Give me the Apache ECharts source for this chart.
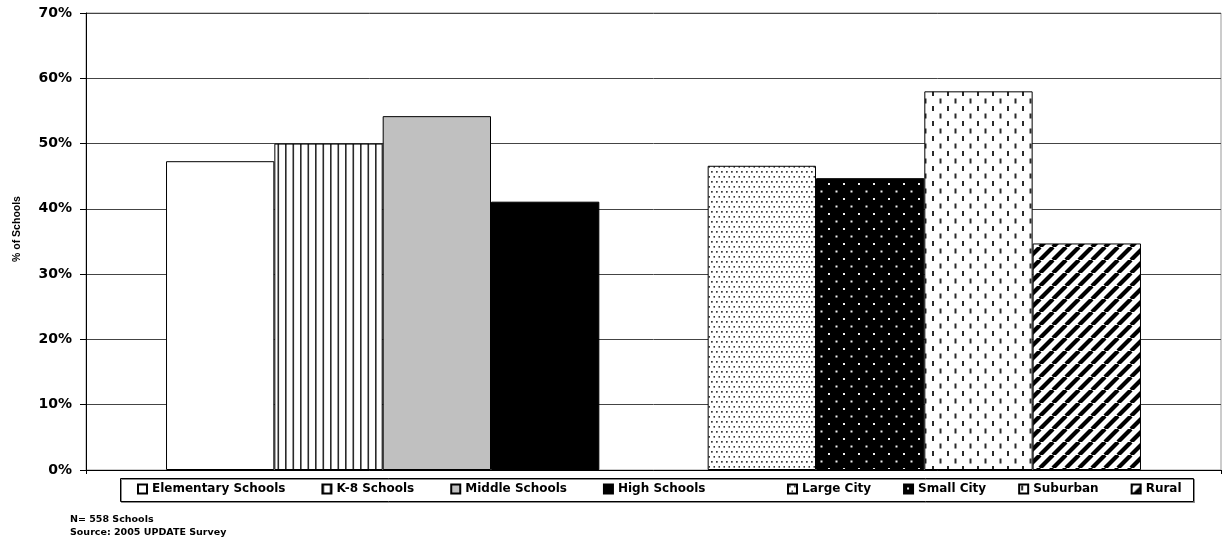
<!DOCTYPE html>
<html>
<head>
<meta charset="utf-8">
<script src="https://cdn.jsdelivr.net/npm/echarts@6/dist/echarts.min.js"></script>
<style>
  html, body { margin: 0; padding: 0; background: #fff; }
  #chart { width: 1224px; height: 542px; }
</style>
</head>
<body>
<div id="chart"></div>
<script>
// School groups (left block) and locale groups (right block)
const schoolTypes = ['Elementary Schools', 'K-8 Schools', 'Middle Schools', 'High Schools'];
const schoolValues = [47.3, 50.0, 54.2, 41.1];
const localeTypes = ['Large City', 'Small City', 'Suburban', 'Rural'];
const localeValues = [46.6, 44.7, 58.0, 34.7];
const yTickValues = [0, 10, 20, 30, 40, 50, 60, 70];
const yTitle = '% of Schools';
const footnotes = ['N= 558 Schools', 'Source: 2005 UPDATE Survey'];

// ---- fill patterns -------------------------------------------------------
function tile(w, h, draw) {
  const c = document.createElement('canvas');
  c.width = w; c.height = h;
  const g = c.getContext('2d');
  draw(g, w, h);
  return { image: c, repeat: 'repeat' };
}
const fills = {
  white: '#ffffff',
  vlines: tile(15, 15, (g, w, h) => {
    g.fillStyle = '#fff'; g.fillRect(0, 0, w, h);
    g.fillStyle = '#2a2a2a';
    g.fillRect(0, 0, 1.6, h);
    g.fillRect(7.5, 0, 1.6, h);
  }),
  gray: '#c0c0c0',
  black: '#000000',
  fineDots: tile(5, 10, (g, w, h) => {
    g.fillStyle = '#fff'; g.fillRect(0, 0, w, h);
    g.fillStyle = '#3a3a3a';
    g.fillRect(1, 1, 1.7, 1.7);
    g.fillRect(3.5, 6, 1.7, 1.7);
  }),
  whiteDotsOnBlack: tile(15, 15, (g, w, h) => {
    g.fillStyle = '#000'; g.fillRect(0, 0, w, h);
    g.fillStyle = '#f0f0f0';
    g.fillRect(3, 3, 2, 2);
    g.fillRect(10.5, 10.5, 2, 2);
  }),
  dashes: tile(15, 15, (g, w, h) => {
    g.fillStyle = '#fff'; g.fillRect(0, 0, w, h);
    g.fillStyle = '#2a2a2a';
    g.fillRect(2, 1, 2, 5);
    g.fillRect(9.5, 8.5, 2, 5);
  }),
  diagonal: tile(13, 13, (g, w, h) => {
    g.fillStyle = '#fff'; g.fillRect(0, 0, w, h);
    g.strokeStyle = '#000'; g.lineWidth = 4.2;
    for (const k of [-w, 0, w]) {
      g.beginPath(); g.moveTo(k, h); g.lineTo(k + w, 0); g.stroke();
    }
  })
};
const schoolFills = [fills.white, fills.vlines, fills.gray, fills.black];
const localeFills = [fills.fineDots, fills.whiteDotsOnBlack, fills.dashes, fills.diagonal];

// ---- series --------------------------------------------------------------
function barSeries(name, value, fill) {
  return {
    name: name,
    type: 'bar',
    data: [value],
    barGap: '0%',
    barCategoryGap: '14.1%',
    itemStyle: { color: fill, borderColor: '#000', borderWidth: 1 },
    emphasis: { disabled: true },
    animation: false
  };
}
const series = [];
schoolTypes.forEach((n, i) => series.push(barSeries(n, schoolValues[i], schoolFills[i])));
// empty slot separating the two blocks
series.push(barSeries('spacer', null, 'rgba(0,0,0,0)'));
localeTypes.forEach((n, i) => series.push(barSeries(n, localeValues[i], localeFills[i])));

const legendText = { fontFamily: 'DejaVu Sans', fontWeight: 'bold', fontSize: 12, color: '#000' };
function legendFor(names, left, gap) {
  return {
    data: names,
    left: left,
    top: 483,
    padding: 0,
    itemGap: gap,
    itemWidth: 9,
    itemHeight: 9,
    icon: 'rect',
    selectedMode: false,
    textStyle: legendText
  };
}

const chart = echarts.init(document.getElementById('chart'), null, { renderer: 'canvas' });
chart.setOption({
  backgroundColor: '#fff',
  animation: false,
  grid: {
    left: 86, right: 3, top: 13, bottom: 72,
    show: true, borderColor: '#999', borderWidth: 1
  },
  xAxis: {
    type: 'category',
    data: [''],
    boundaryGap: true,
    axisLine: { lineStyle: { color: '#000', width: 1 } },
    axisTick: { show: true, length: 4, lineStyle: { color: '#000' } },
    axisLabel: { show: false }
  },
  yAxis: {
    type: 'value',
    min: yTickValues[0],
    max: yTickValues[yTickValues.length - 1],
    interval: 10,
    axisLine: { show: true, lineStyle: { color: '#000', width: 1 } },
    axisTick: { show: true, inside: false, length: 6, lineStyle: { color: '#000' } },
    axisLabel: {
      formatter: '{value}%',
      margin: 14,
      fontFamily: 'DejaVu Sans', fontWeight: 'bold', fontSize: 14, color: '#000'
    },
    splitLine: { show: true, lineStyle: { color: '#444', width: 1 } }
  },
  legend: [legendFor(schoolTypes, 137, 36), legendFor(localeTypes, 787, 32)],
  series: series,
  graphic: [
    {
      type: 'rect', silent: true, z: -1,
      shape: { x: 120.5, y: 478.5, width: 1073, height: 23 },
      style: { fill: 'none', stroke: '#000', lineWidth: 1, shadowColor: 'rgba(0,0,0,0.45)', shadowOffsetX: 1, shadowOffsetY: 1 }
    },
    {
      type: 'text', silent: true,
      x: 17, y: 229, rotation: Math.PI / 2,
      style: {
        text: yTitle, fill: '#000', align: 'center', verticalAlign: 'middle',
        font: 'bold 10.5px "Liberation Sans", Arial, sans-serif'
      }
    },
    {
      type: 'text', silent: true, x: 70, y: 520,
      style: { text: footnotes[0], fill: '#000', verticalAlign: 'middle', font: 'bold 9.5px "DejaVu Sans", sans-serif' }
    },
    {
      type: 'text', silent: true, x: 70, y: 533,
      style: { text: footnotes[1], fill: '#000', verticalAlign: 'middle', font: 'bold 9.5px "DejaVu Sans", sans-serif' }
    }
  ]
});
</script>
</body>
</html>
